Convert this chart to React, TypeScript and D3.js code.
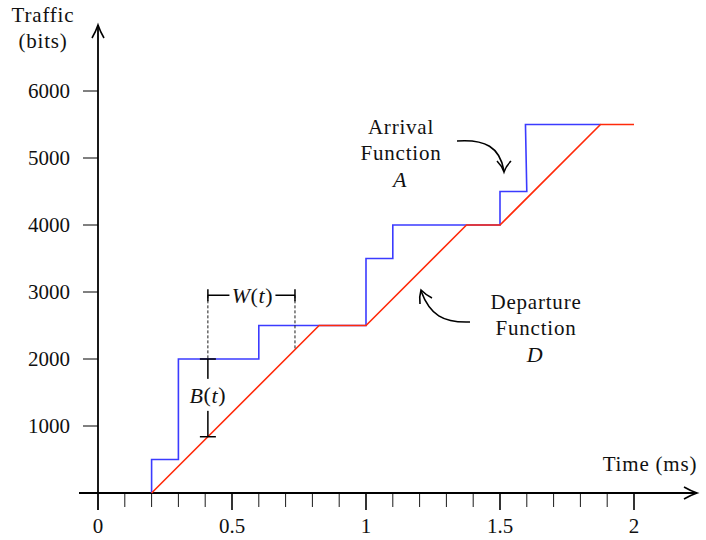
import React from "react";
import * as d3 from "d3";

// Arrival function A(t): cumulative bits arrived (step function)
const arrivalTime = [0.2, 0.2, 0.3, 0.3, 0.6, 0.6, 1.0, 1.0, 1.1, 1.1, 1.5, 1.5, 1.6, 1.595, 1.875];
const arrivalBits = [0, 500, 500, 2000, 2000, 2500, 2500, 3500, 3500, 4000, 4000, 4500, 4500, 5500, 5500];

// Departure function D(t): served at a constant rate when backlogged
const departureTime = [0.2, 0.825, 1.0, 1.375, 1.5, 1.875, 2.0];
const departureBits = [0, 2500, 2500, 4000, 4000, 5500, 5500];

const yTickValues = [1000, 2000, 3000, 4000, 5000, 6000];
const xMajorTicks = [0, 0.5, 1, 1.5, 2];
const xMinorTicks = d3.range(1, 21).map((i) => i / 10);

// Backlog / delay annotation
const tObserve = 0.41;
const tDelayEnd = 0.735;
const bracketLevel = 2950;

const FONT = "Liberation Serif";
const BLUE = "#3b3bff";
const RED = "#ff2a0a";

export default function App() {
  const width = 706;
  const height = 540;
  const x = d3.scaleLinear().domain([0, 2]).range([98, 634]);
  const y = d3.scaleLinear().domain([0, 6000]).range([493, 91]);

  const line = d3
    .line<[number, number]>()
    .x((d) => x(d[0]))
    .y((d) => y(d[1]));

  const arrival = arrivalTime.map((t, i) => [t, arrivalBits[i]] as [number, number]);
  const departure = departureTime.map((t, i) => [t, departureBits[i]] as [number, number]);

  const depAt = (t: number) => {
    for (let i = 1; i < departure.length; i++) {
      const [t0, b0] = departure[i - 1];
      const [t1, b1] = departure[i];
      if (t >= t0 && t <= t1) return b0 + ((b1 - b0) * (t - t0)) / (t1 - t0);
    }
    return 0;
  };
  const arrAt = (t: number) => {
    let v = 0;
    for (let i = 0; i < arrival.length; i++) if (arrival[i][0] <= t) v = arrival[i][1];
    return v;
  };

  const xo = x(tObserve);
  const xe = x(tDelayEnd);
  const yBr = y(bracketLevel);
  const yA = y(arrAt(tObserve));
  const yD = y(depAt(tObserve));
  const yDe = y(depAt(tDelayEnd));

  const txt = { fontFamily: FONT, fontSize: 21, fill: "#111" } as const;
  const word = { ...txt, letterSpacing: 0.8 } as const;
  const math = { ...txt, fontSize: 22, letterSpacing: 0.6 } as const;
  const axisY0 = y(0);
  const wMid = (xo + xe) / 2 + 1;
  const bMid = (yA + yD) / 2 - 3;

  return (
    <svg width={width} height={height} style={{ position: "absolute", left: 0, top: 0, background: "#fff" }}>
      <rect width={width} height={height} fill="#fff" />

      {/* axes */}
      <line x1={x(0)} y1={axisY0 + 17} x2={x(0)} y2={25} stroke="#000" strokeWidth={1.8} />
      <path d={`M${x(0) - 6},${38} Q${x(0) - 2},${31} ${x(0)},${25} Q${x(0) + 2},${31} ${x(0) + 6},${38}`} fill="none" stroke="#000" strokeWidth={1.6} />
      <line x1={79} y1={axisY0} x2={697} y2={axisY0} stroke="#000" strokeWidth={1.8} />
      <path d={`M${684},${axisY0 - 6} Q${691},${axisY0 - 2} ${697},${axisY0} Q${691},${axisY0 + 2} ${684},${axisY0 + 6}`} fill="none" stroke="#000" strokeWidth={1.6} />

      {/* y ticks */}
      {yTickValues.map((v) => (
        <g key={v}>
          <line x1={x(0) - 15} x2={x(0)} y1={y(v)} y2={y(v)} stroke="#000" strokeWidth={1} />
          <text x={70} y={y(v)} textAnchor="end" dominantBaseline="central" {...txt}>
            {v}
          </text>
        </g>
      ))}

      {/* x ticks */}
      {xMinorTicks.map((v) => {
        const major = Math.abs(v * 2 - Math.round(v * 2)) < 1e-9;
        return (
          <line key={v} x1={x(v)} x2={x(v)} y1={axisY0} y2={axisY0 + (major ? 17 : 14)} stroke="#000" strokeWidth={major ? 1.6 : 0.9} />
        );
      })}
      {xMajorTicks.map((v) => (
        <text key={v} x={x(v)} y={526} textAnchor="middle" dominantBaseline="central" {...txt}>
          {String(v)}
        </text>
      ))}

      {/* axis titles */}
      <text x={43} y={22} textAnchor="middle" {...word}>Traffic</text>
      <text x={43} y={48} textAnchor="middle" {...word}>(bits)</text>
      <text x={650} y={471} textAnchor="middle" {...word}>Time (ms)</text>

      {/* curves */}
      <path d={line(arrival) || ""} fill="none" stroke={BLUE} strokeWidth={1.6} />
      <path d={line(departure) || ""} fill="none" stroke={RED} strokeWidth={1.6} />

      {/* delay W(t) */}
      <line x1={xo} x2={xo} y1={yBr} y2={yA} stroke="#000" strokeWidth={0.9} strokeDasharray="3,2" />
      <line x1={xe} x2={xe} y1={yBr} y2={yDe} stroke="#000" strokeWidth={0.9} strokeDasharray="3,2" />
      <line x1={xo} x2={xe} y1={yBr} y2={yBr} stroke="#000" strokeWidth={1.5} />
      <line x1={xo} x2={xo} y1={yBr - 6} y2={yBr + 6} stroke="#000" strokeWidth={1.5} />
      <line x1={xe} x2={xe} y1={yBr - 6} y2={yBr + 6} stroke="#000" strokeWidth={1.5} />
      <rect x={wMid - 23} y={yBr - 12} width={46} height={24} fill="#fff" />
      <text x={wMid} y={yBr} textAnchor="middle" dominantBaseline="central" {...math}>
        <tspan fontStyle="italic">W</tspan>(<tspan fontStyle="italic">t</tspan>)
      </text>

      {/* backlog B(t) */}
      <line x1={xo} x2={xo} y1={yA} y2={yD} stroke="#000" strokeWidth={1.5} />
      <line x1={xo - 8} x2={xo + 8} y1={yA} y2={yA} stroke="#000" strokeWidth={1.5} />
      <line x1={xo - 8} x2={xo + 8} y1={yD} y2={yD} stroke="#000" strokeWidth={1.5} />
      <rect x={xo - 22} y={bMid - 16} width={44} height={32} fill="#fff" />
      <text x={xo} y={bMid} textAnchor="middle" dominantBaseline="central" {...math}>
        <tspan fontStyle="italic">B</tspan>(<tspan fontStyle="italic">t</tspan>)
      </text>

      {/* labels with pointers */}
      <text x={401} y={134} textAnchor="middle" {...word}>Arrival</text>
      <text x={401} y={160} textAnchor="middle" {...word}>Function</text>
      <text x={400} y={187} textAnchor="middle" fontStyle="italic" {...math}>A</text>
      <path d="M457,141 C485,139 500,147 504,171" fill="none" stroke="#000" strokeWidth={1.6} />
      <path d="M497,161 Q502,166 504,172 Q506,166 511,161" fill="none" stroke="#000" strokeWidth={1.6} />

      <text x={536} y={309} textAnchor="middle" {...word}>Departure</text>
      <text x={536} y={335} textAnchor="middle" {...word}>Function</text>
      <text x={535} y={362} textAnchor="middle" fontStyle="italic" {...math}>D</text>
      <path d="M470,322 C443,323 430,315 421,291" fill="none" stroke="#000" strokeWidth={1.6} />
      <path d="M420,304 Q419,297 421,290 Q426,295 432,298" fill="none" stroke="#000" strokeWidth={1.6} />
    </svg>
  );
}
